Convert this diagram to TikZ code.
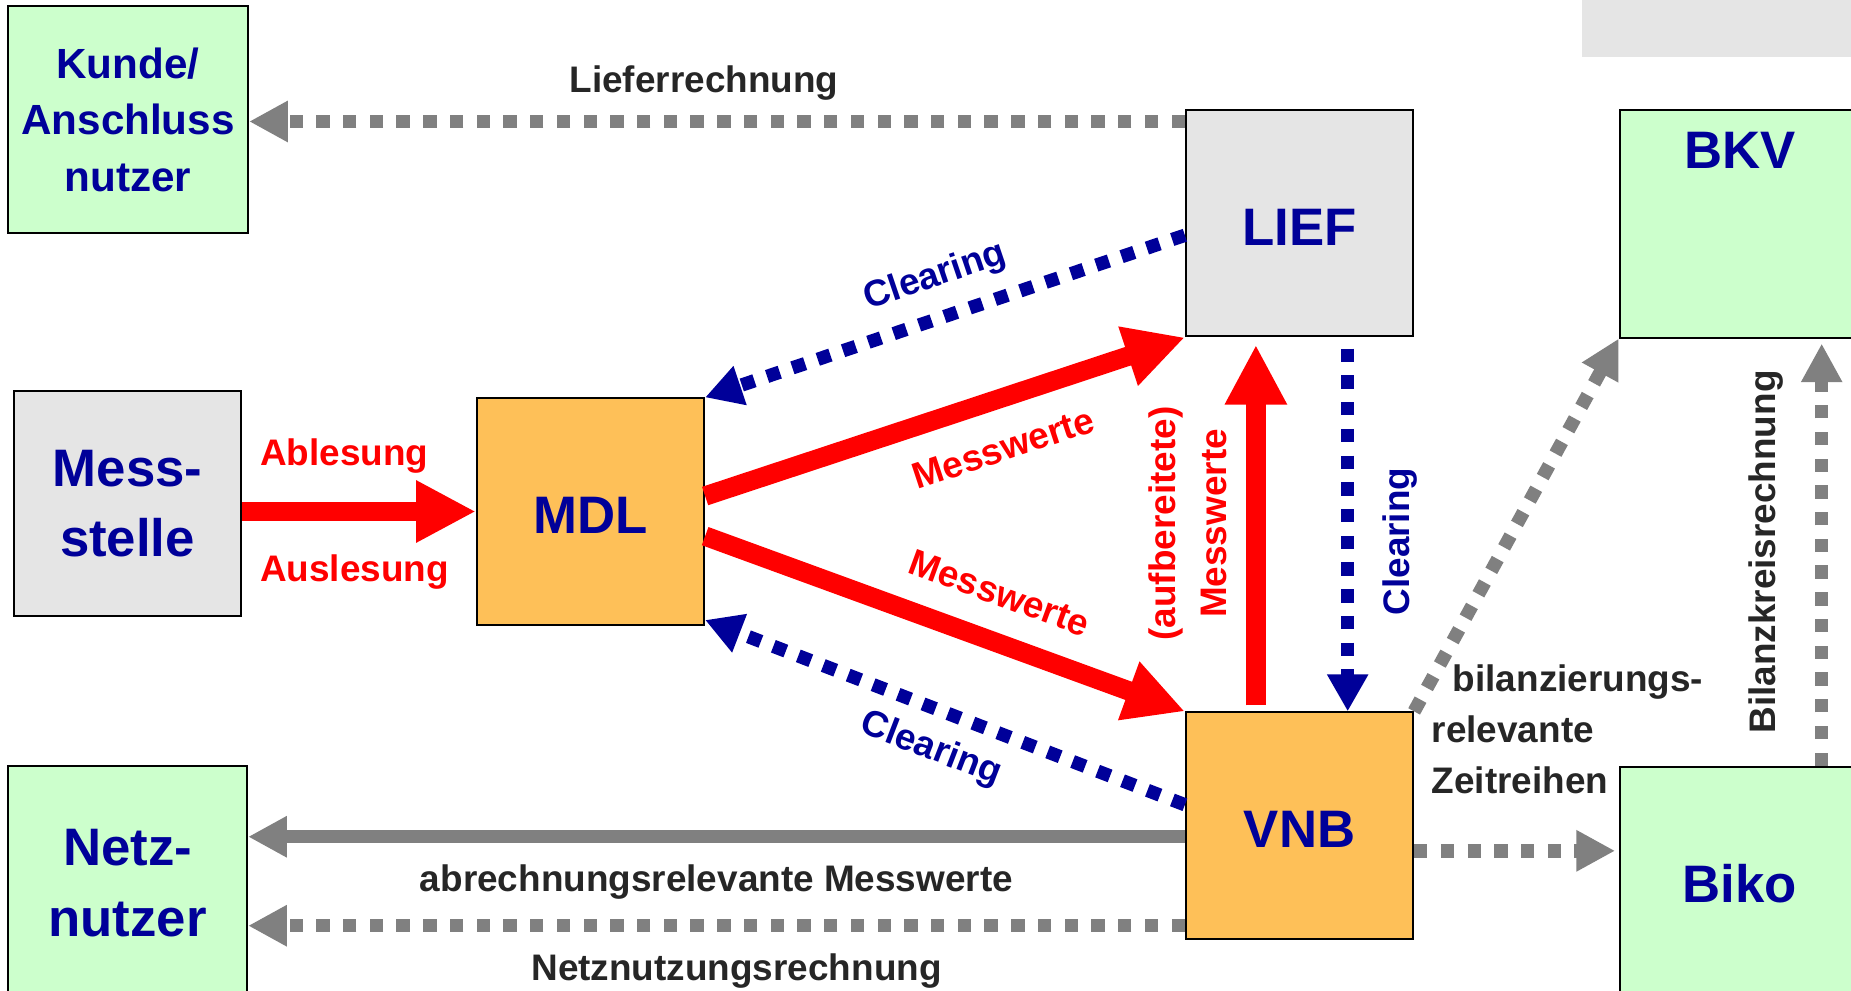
\documentclass[tikz,border=0pt]{standalone}
\usepackage{fontspec}
\setmainfont{Liberation Sans}
\usetikzlibrary{arrows.meta}

\definecolor{nodeblue}{RGB}{0,0,153}
\definecolor{msred}{RGB}{255,0,0}
\definecolor{msgray}{RGB}{128,128,128}
\definecolor{txtgray}{RGB}{38,38,38}
\definecolor{fillgreen}{RGB}{204,255,204}
\definecolor{fillgray}{RGB}{229,229,229}
\definecolor{fillorange}{RGB}{254,192,88}

\begin{document}
\begin{tikzpicture}[x=0.01cm, y=-0.01cm,
    boxfont/.style={text=nodeblue, font=\fontsize{15}{20}\selectfont\bfseries},
    msbox/.style={boxfont, draw=black, line width=0.6pt, minimum width=2.27cm,
      minimum height=2.26cm, inner sep=0pt, align=center},
    lowtext/.style={text height=12.6pt, text depth=0pt},
    lbl/.style={font=\fontsize{10.5}{12.6}\selectfont\bfseries},
    redlbl/.style={lbl, text=msred},
    bluelbl/.style={lbl, text=nodeblue},
    graylbl/.style={lbl, text=txtgray},
    redarrow/.style={draw=msred, line width=5.5pt, -{Triangle[length=17pt,width=16.5pt]}},
    grayarrow/.style={draw=msgray, line width=3.8pt, -{Triangle[length=11pt,width=11pt]}},
    graydots/.style={grayarrow, dash pattern=on 3.8pt off 3.8pt},
    bluedots/.style={draw=nodeblue, line width=3.8pt, dash pattern=on 3.8pt off 3.8pt,
      -{Triangle[length=10.5pt,width=11pt]}}]
  \useasboundingbox (0,0) rectangle (1851,991);
  \clip (0,0) rectangle (1851,991);
  \fill[white] (0,0) rectangle (1851,991);
  \fill[fillgray] (1582,0) rectangle (1851,57);

  % boxes
  \node[msbox, fill=fillgreen, minimum width=2.4cm, minimum height=2.27cm,
    font=\fontsize{12}{16}\selectfont\bfseries] (kunde) at (128,119.7) {Kunde/\\Anschluss\\nutzer};
  \node[msbox, fill=fillgray, minimum height=2.25cm] (mess) at (127.5,503.5) {Mess-\\stelle};
  \node[msbox, lowtext, fill=fillorange] (mdl) at (590.5,511.5) {MDL};
  \node[msbox, lowtext, fill=fillgray] (lief) at (1299.5,223.3) {LIEF};
  \node[msbox, lowtext, fill=fillorange] (vnb) at (1299.5,825.5) {VNB};
  \node[msbox, fill=fillgreen, minimum width=2.4cm, minimum height=2.27cm] (bkv) at (1739.75,224) {};
  \node[boxfont] (bkvname) at (1740,150) {BKV};
  \node[msbox, fill=fillgreen, minimum width=2.4cm, minimum height=2.34cm] (biko) at (1739.75,884) {Biko};
  \node[msbox, fill=fillgreen, minimum width=2.39cm, minimum height=2.34cm] (netz) at (127.5,883) {Netz-\\nutzer};

  % Messwerte (rot)
  \draw[redarrow] (mess.east |- mdl.west) -- (mdl.west);
  \draw[redarrow] ([yshift=4.4pt]mdl.east) -- node[redlbl, sloped, pos=0.59, below=4pt] (mwlief) {Messwerte} (lief.south west);
  \draw[redarrow] ([yshift=-7pt]mdl.east) -- node[redlbl, sloped, pos=0.58, above=3.8pt] (mwvnb) {Messwerte} (vnb.north west);
  \draw[redarrow] ([xshift=-12.4pt, yshift=1.7pt]vnb.north) -- ([xshift=-12.4pt, yshift=-2.1pt]lief.south);

  % Clearing (blau)
  \draw[bluedots] ([yshift=-3.4pt]lief.west) -- node[bluelbl, sloped, pos=0.494, above=1.3pt] (clrlief) {Clearing} (mdl.north east);
  \draw[bluedots] ([yshift=5.9pt]vnb.west) -- node[bluelbl, sloped, pos=0.5, below=1.2pt] (clrvnb) {Clearing} ([yshift=1.6pt]mdl.south east);
  \draw[bluedots] ([xshift=13.7pt, yshift=-3.2pt]lief.south) -- ([xshift=13.7pt]vnb.north);

  % Rechnungen und Zeitreihen (grau)
  \coordinate (liefout) at ([yshift=-3.5pt]lief.north west);
  \draw[graydots] (liefout) -- (liefout -| kunde.east);
  \coordinate (vnbsolid) at ([yshift=-3.2pt]vnb.west);
  \draw[grayarrow] (vnbsolid) -- (vnbsolid -| netz.east);
  \coordinate (vnbdots) at ([yshift=-28.5pt]vnb.west);
  \draw[graydots] (vnbdots) -- (vnbdots -| netz.east);
  \coordinate (vnbbiko) at ([yshift=-7.2pt]vnb.east);
  \draw[graydots] (vnbbiko) -- ([xshift=-1pt]vnbbiko -| biko.west);
  \draw[graydots] (vnb.north east) -- (bkv.south west);
  \draw[graydots] ([xshift=23.3pt]biko.north) -- ([xshift=23.3pt, yshift=-1.4pt]bkv.south);

  % labels
  \node[redlbl, anchor=base west, inner sep=0pt] (ablesung) at (259.5,465.7) {Ablesung};
  \node[redlbl, anchor=base west, inner sep=0pt] (auslesung) at (259.5,581.9) {Auslesung};
  \node[graylbl, anchor=base, inner sep=0pt] (liefrechnung) at (704,92.7) {Lieferrechnung};
  \node[graylbl, anchor=base, inner sep=0pt] (abrmesswerte) at (716.5,891) {abrechnungsrelevante Messwerte};
  \node[graylbl, anchor=base, inner sep=0pt] (nnrechnung) at (736.6,980) {Netznutzungsrechnung};
  \node[redlbl, rotate=90, align=center, font=\fontsize{10.5}{14.5}\selectfont\bfseries] (aufbereitet) at (1187.5,523.5) {(aufbereitete)\\Messwerte};
  \node[bluelbl, rotate=90] (clrvert) at (1400,541.5) {Clearing};
  \node[graylbl, rotate=90] (bkrechnung) at (1765.7,552) {Bilanzkreisrechnung};
  \node[graylbl, align=left, anchor=north west, inner sep=0pt,
    font=\fontsize{10.5}{14.6}\selectfont\bfseries] (zeitreihen) at (1431,663.8) {\hspace*{6pt}bilanzierungs-\\relevante\\Zeitreihen};
\end{tikzpicture}
\end{document}
